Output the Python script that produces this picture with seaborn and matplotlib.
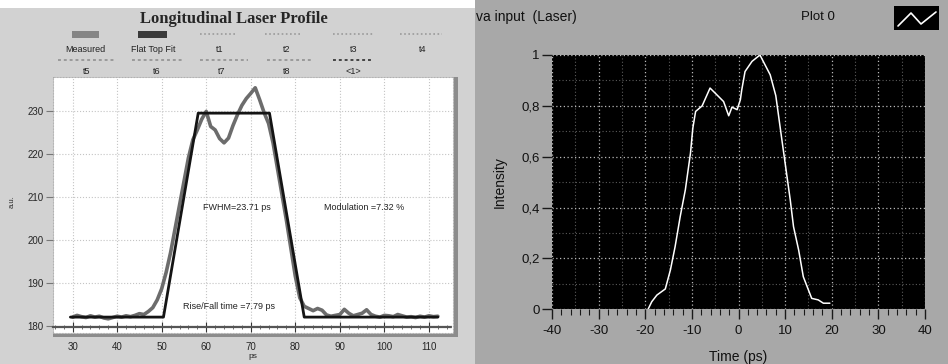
import matplotlib
matplotlib.use("Agg")
import matplotlib.pyplot as plt
from matplotlib.patches import Rectangle
from matplotlib.lines import Line2D
from matplotlib.ticker import MultipleLocator, FuncFormatter
import pandas as pd
import seaborn as sns

# ---- Longitudinal laser profile: measured trace and flat-top fit ----
profile_time_ps = list(range(30, 113))
measured_au = [
    182.0, 182.4, 182.1, 181.9, 182.3, 182.0, 182.2, 181.8, 181.6, 181.9,
    182.2, 182.0, 182.3, 182.1, 182.4, 182.8, 182.6, 183.3, 184.2, 186.0,
    188.6, 192.4, 197.0, 202.5, 208.0, 213.5, 219.0, 223.2, 225.5, 228.0,
    229.8, 226.3, 225.5, 223.5, 222.5, 223.6, 226.5, 229.0, 231.2, 232.8,
    234.0, 235.3, 232.5, 229.5, 227.0, 222.5, 216.5, 210.5, 204.5, 198.0,
    191.5, 186.5, 184.5, 184.0, 183.5, 184.0, 183.6, 182.5, 182.2, 182.4,
    182.6, 183.8, 182.9, 182.3, 182.6, 182.9, 183.7, 182.6, 182.2, 182.0,
    182.4, 182.3, 182.1, 182.6, 182.3, 182.0, 182.1, 181.9, 182.2, 182.0,
    182.3, 182.1, 182.2,
]
fit_time_ps = [29.5, 50.4, 58.2, 74.2, 82.0, 112.0]
fit_au = [182.0, 182.0, 229.4, 229.4, 182.0, 182.0]

fwhm_ps = 23.71
modulation_pct = 7.32
rise_fall_ps = 7.79

legend_row1 = ["Measured", "Flat Top Fit", "t1", "t2", "t3", "t4"]
legend_row2 = ["t5", "t6", "t7", "t8", "<1>"]

# ---- Laser input: normalised intensity vs time ----
input_time_ps = [-19.4, -18.6, -17.5, -15.7, -14.6, -13.6, -12.5, -11.4, -10.3,
                 -9.8, -9.2, -7.8, -6.1, -5.0, -3.2, -2.1, -1.4, -0.3, 0.4,
                 0.7, 1.4, 2.9, 4.6, 6.8, 8.0, 9.3, 10.0, 11.1, 11.8, 12.9,
                 13.9, 15.0, 15.7, 17.1, 18.2, 19.6]
input_intensity = [0.0, 0.03, 0.056, 0.08, 0.155, 0.246, 0.365, 0.47, 0.614,
                   0.712, 0.778, 0.80, 0.870, 0.850, 0.817, 0.761, 0.795,
                   0.785, 0.824, 0.863, 0.935, 0.975, 1.0, 0.922, 0.84, 0.667,
                   0.575, 0.43, 0.325, 0.233, 0.128, 0.076, 0.043, 0.037,
                   0.024, 0.024]

sns.set_style("ticks")
plt.rcParams["font.family"] = ["Liberation Sans", "DejaVu Sans"]
plt.rcParams["axes.unicode_minus"] = False

W, H = 948, 364
fig = plt.figure(figsize=(W / 100, H / 100), dpi=100)


def fx(x):
    return x / W


def fy(y):
    return 1 - y / H


def prect(x0, y0, x1, y1, **kw):
    fig.patches.append(Rectangle((fx(x0), fy(y1)), fx(x1) - fx(x0),
                                 fy(y0) - fy(y1), transform=fig.transFigure,
                                 **kw))


def ptext(x, y, s, **kw):
    fig.text(fx(x), fy(y), s, **kw)


# panel backgrounds
prect(0, 0, 948, 364, facecolor="white", edgecolor="none", zorder=-3)
prect(0, 8, 475, 364, facecolor="#d2d2d2", edgecolor="none", zorder=-2)
prect(475, 0, 948, 364, facecolor="#a8a8a8", edgecolor="none", zorder=-2)
# white plotting field and its shadowed frame on the left panel
prect(53, 77, 458, 337, facecolor="#8c8c8c", edgecolor="none", zorder=-1.5)
prect(53, 77, 453, 333, facecolor="white", edgecolor="#b0b0b0",
      linestyle=":", linewidth=0.8, zorder=-1)

# ---------------- left: longitudinal profile ----------------
ax1 = fig.add_axes([fx(53), fy(327), fx(453) - fx(53), fy(77) - fy(327)])
ax1.set_zorder(5)
ax1.set_facecolor("none")
prof = pd.DataFrame({"t": profile_time_ps, "v": measured_au})
fit = pd.DataFrame({"t": fit_time_ps, "v": fit_au})
sns.lineplot(data=prof, x="t", y="v", ax=ax1, color="#6c6c6c", lw=2.6)
sns.lineplot(data=fit, x="t", y="v", ax=ax1, color="#141414", lw=2.0)
ax1.set_xlim(25.6, 115.4)
ax1.set_ylim(179.7, 237.8)
ax1.xaxis.set_major_locator(MultipleLocator(10))
ax1.xaxis.set_minor_locator(MultipleLocator(2))
ax1.yaxis.set_major_locator(MultipleLocator(10))
ax1.grid(True, which="major", color="#c4c4c4", linestyle=":", linewidth=0.8)
for s in ["top", "right", "left"]:
    ax1.spines[s].set_visible(False)
ax1.spines["bottom"].set_color("#555555")
ax1.spines["bottom"].set_linestyle((0, (1, 1)))
ax1.spines["bottom"].set_linewidth(1.6)
ax1.tick_params(axis="x", which="major", direction="inout", length=7,
                width=0.8, color="#333333", labelsize=7, pad=7)
ax1.tick_params(axis="x", which="minor", direction="inout", length=3,
                width=0.6, color="#555555")
ax1.tick_params(axis="y", which="major", direction="out", length=5,
                width=0.8, color="#777777", labelsize=7, pad=2)
ax1.set_xlabel("ps", fontsize=6, labelpad=1)
ax1.set_ylabel("a.u.", fontsize=5.5, labelpad=8)
ax1.text(66.8, 207.5, f"FWHM={fwhm_ps} ps", fontsize=6.5, ha="center",
         va="center", color="#222222")
ax1.text(95.5, 207.5, f"Modulation ={modulation_pct} %", fontsize=6.5,
         ha="center", va="center", color="#222222")
ax1.text(65.2, 184.4, f"Rise/Fall time ={rise_fall_ps} ps", fontsize=6.5,
         ha="center", va="center", color="#222222")

# title and the plot legend above the field
ptext(234, 19, "Longitudinal Laser Profile", family=["Liberation Serif"],
      fontsize=12, fontweight="bold", ha="center", va="center")
row1_x = [85, 153, 220, 287, 354, 423]
row2_x = [87, 157, 222, 287, 353]
for lab, x in zip(legend_row1, row1_x):
    ptext(x, 49, lab, fontsize=6.5, ha="center", va="center", color="#222222")
for lab, x in zip(legend_row2, row2_x):
    ptext(x, 72, lab, fontsize=6.5, ha="center", va="center", color="#222222")
prect(72, 31, 99, 38, facecolor="#858585", edgecolor="none", zorder=2)
prect(138, 31, 167, 38, facecolor="#3a3a3a", edgecolor="none", zorder=2)
for x0, x1 in [(200, 237), (265, 302), (333, 373), (400, 442)]:
    fig.lines.append(Line2D([fx(x0), fx(x1)], [fy(34), fy(34)],
                            transform=fig.transFigure, color="#9a9a9a",
                            lw=1.2, linestyle=(0, (1, 1.5))))
for (x0, x1), c in zip([(58, 115), (132, 182), (200, 248), (267, 313),
                        (333, 373)],
                       ["#9a9a9a"] * 4 + ["#444444"]):
    fig.lines.append(Line2D([fx(x0), fx(x1)], [fy(60), fy(60)],
                            transform=fig.transFigure, color=c,
                            lw=1.4, linestyle=(0, (1.5, 1.5))))

# ---------------- right: laser input ----------------
ax2 = fig.add_axes([fx(552), fy(309.3), fx(925) - fx(552),
                    fy(55) - fy(309.3)])
ax2.set_zorder(5)
ax2.set_facecolor("black")
inp = pd.DataFrame({"t": input_time_ps, "i": input_intensity})
sns.lineplot(data=inp, x="t", y="i", ax=ax2, color="white", lw=1.1)
ax2.set_xlim(-40, 40)
ax2.set_ylim(0, 1.0)
ax2.xaxis.set_major_locator(MultipleLocator(10))
ax2.xaxis.set_minor_locator(MultipleLocator(2))
ax2.yaxis.set_major_locator(MultipleLocator(0.2))
ax2.yaxis.set_minor_locator(MultipleLocator(0.1))
ax2.yaxis.set_major_formatter(
    FuncFormatter(lambda v, p: "0" if abs(v) < 1e-9 else
                  ("1" if abs(v - 1) < 1e-9 else f"{v:.1f}".replace(".", ","))))
ax2.grid(True, which="major", color="#b8b8b8", linestyle=(0, (1, 2)),
         linewidth=0.9)
ax2.grid(True, which="minor", axis="y", color="#5a5a5a",
         linestyle=(0, (1, 2)), linewidth=0.8)
for v in range(-35, 40, 10):
    ax2.axvline(v, color="#5a5a5a", linestyle=(0, (1, 2)), linewidth=0.8,
                zorder=0.5)
for s in ax2.spines.values():
    s.set_visible(False)
ax2.tick_params(axis="both", which="major", direction="out", length=7,
                width=1.0, color="#1a1a1a", labelsize=9.5, pad=2,
                labelcolor="#111111")
ax2.tick_params(axis="x", which="major", pad=4)
ax2.tick_params(axis="x", which="minor", direction="out", length=4,
                width=0.8, color="#1a1a1a")
ax2.tick_params(axis="y", which="minor", length=0)
ax2.set_xlabel("Time (ps)", fontsize=10, labelpad=10, color="#111111")
ax2.set_ylabel("Intensity", fontsize=10, labelpad=10, color="#111111")

ptext(476, 17, "va input  (Laser)", fontsize=10, ha="left", va="center",
      color="#111111")
ptext(835, 17, "Plot 0", fontsize=9.5, ha="right", va="center",
      color="#111111")
prect(894, 6, 939, 30, facecolor="black", edgecolor="none", zorder=2)
fig.lines.append(Line2D([fx(898), fx(911), fx(921), fx(936)],
                        [fy(26), fy(13), fy(24), fy(12)],
                        transform=fig.transFigure, color="white", lw=1.2,
                        zorder=3))

fig.savefig("out.png", dpi=100)
